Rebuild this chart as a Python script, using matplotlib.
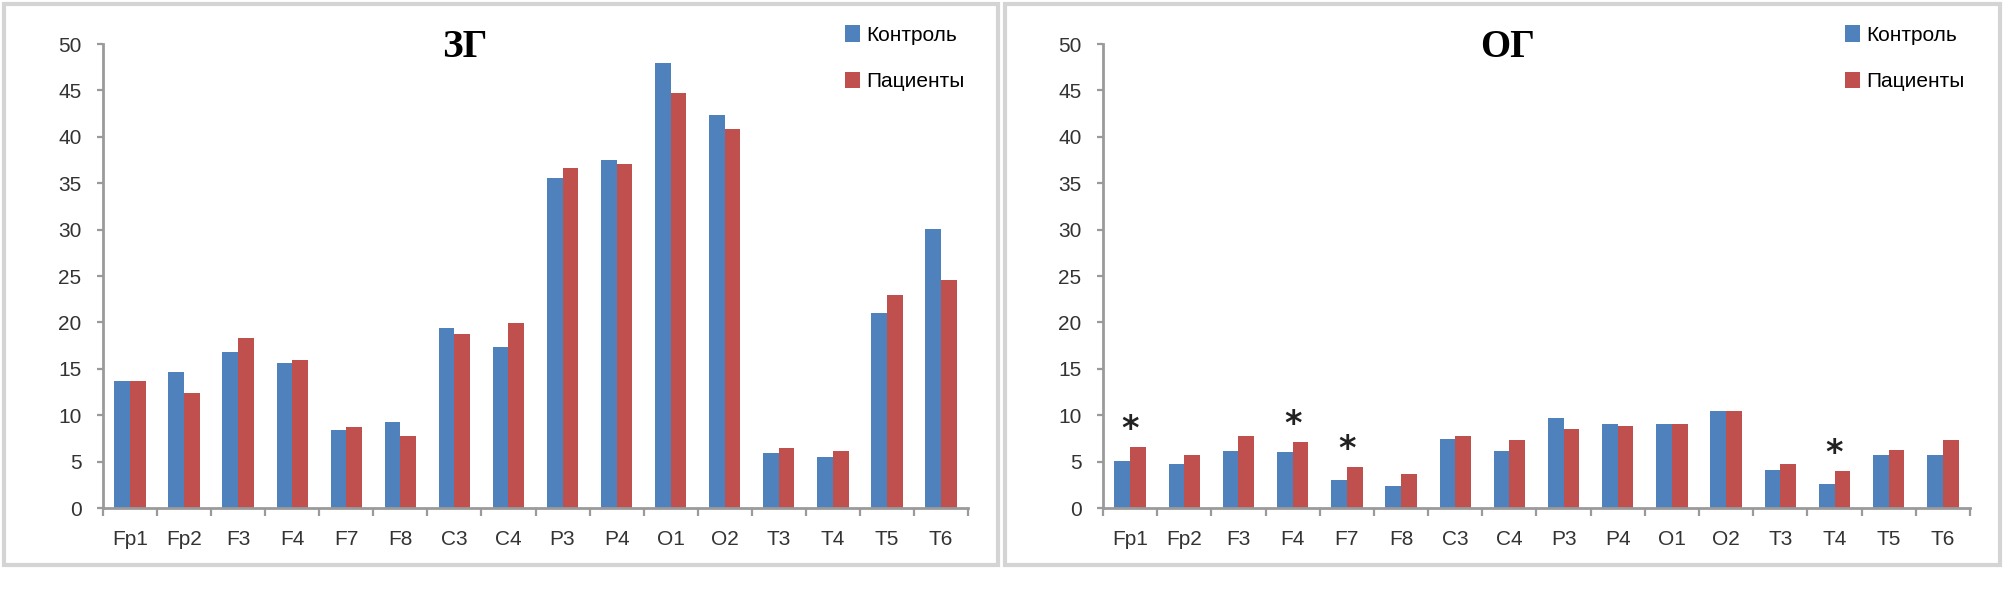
import numpy as np
import matplotlib
matplotlib.use("Agg")
import matplotlib.pyplot as plt
from matplotlib.patches import Rectangle

# electrode sites
leads = ["Fp1", "Fp2", "F3", "F4", "F7", "F8", "C3", "C4",
         "P3", "P4", "O1", "O2", "T3", "T4", "T5", "T6"]

# ЗГ (left panel)
zg_control = [13.7, 14.7, 16.8, 15.6, 8.4, 9.3, 19.4, 17.4,
              35.6, 37.5, 47.9, 42.3, 5.9, 5.5, 21.0, 30.1]
zg_patients = [13.7, 12.4, 18.3, 16.0, 8.7, 7.8, 18.8, 19.9,
               36.6, 37.1, 44.7, 40.8, 6.5, 6.1, 23.0, 24.6]

# ОГ (right panel)
og_control = [5.1, 4.7, 6.1, 6.0, 3.0, 2.4, 7.4, 6.1,
              9.7, 9.0, 9.0, 10.4, 4.1, 2.6, 5.7, 5.7]
og_patients = [6.6, 5.7, 7.8, 7.1, 4.4, 3.7, 7.8, 7.3,
               8.5, 8.8, 9.0, 10.4, 4.7, 4.0, 6.3, 7.3]
og_marked = ["Fp1", "F4", "F7", "T4"]

series_names = ["Контроль", "Пациенты"]
yticks = [0, 5, 10, 15, 20, 25, 30, 35, 40, 45, 50]

C_BLUE = "#4F81BD"
C_RED = "#C0504D"
AX_GRAY = "#9A9A9A"

W, H = 2008, 608
fig = plt.figure(figsize=(W / 100, H / 100), dpi=100)
fig.patch.set_facecolor("white")


def px(x0, y0, x1, y1):
    # pixel box (top-left origin) -> figure fraction rect
    return [x0 / W, 1 - y1 / H, (x1 - x0) / W, (y1 - y0) / H]


def panel(rect, ctrl, pat, title, title_x, legend_x, marks=None):
    ax = fig.add_axes(rect)
    x = np.arange(len(leads))
    bw = 0.29
    ax.bar(x - bw / 2, ctrl, bw, color=C_BLUE, label=series_names[0], zorder=2)
    ax.bar(x + bw / 2, pat, bw, color=C_RED, label=series_names[1], zorder=2)

    ax.set_xlim(-0.5, len(leads) - 0.5)
    ax.set_ylim(0, 50)
    ax.set_yticks(yticks)
    ax.set_xticks(x)
    ax.set_xticklabels(leads)
    ax.set_xticks(np.arange(len(leads) + 1) - 0.5, minor=True)

    for s in ["top", "right"]:
        ax.spines[s].set_visible(False)
    for s in ["left", "bottom"]:
        ax.spines[s].set_color(AX_GRAY)
        ax.spines[s].set_linewidth(2)

    ax.tick_params(axis="y", length=4.5, width=1.6, color=AX_GRAY, pad=11,
                   labelsize=15, labelcolor="#333333")
    ax.tick_params(axis="x", which="major", length=0, pad=16,
                   labelsize=15, labelcolor="#333333")
    ax.tick_params(axis="x", which="minor", length=6, width=1.6, color=AX_GRAY)
    for lab in ax.get_xticklabels() + ax.get_yticklabels():
        lab.set_fontfamily("Liberation Sans")

    if marks:
        for name in marks:
            i = leads.index(name)
            top = max(ctrl[i], pat[i])
            ax.text(i, top + 1.9, "*", ha="center", va="center",
                    fontsize=24, fontweight="bold", color="#222222")

    fig.text(title_x / W, 1 - 57 / H, title, ha="center", va="baseline",
             fontsize=28, fontweight="bold", family="Liberation Serif",
             color="black")

    ax.legend(loc="upper left", bbox_to_anchor=(legend_x / W, 1 - 25 / H),
              bbox_transform=fig.transFigure, frameon=False,
              prop={"family": "Liberation Sans", "size": 15},
              handlelength=0.7, handleheight=0.85, handletextpad=0.3,
              labelspacing=1.3, borderpad=0, borderaxespad=0)
    return ax


panel(px(103, 44, 968, 508), zg_control, zg_patients, "ЗГ", 465, 845)
panel(px(1103, 44, 1970, 508), og_control, og_patients, "ОГ", 1508, 1845,
      marks=og_marked)

# chart frames
for x0, x1 in [(4, 998), (1005, 2000)]:
    fig.add_artist(Rectangle((x0 / W, 1 - 565 / H), (x1 - x0) / W, 561 / H,
                             transform=fig.transFigure, fill=False,
                             edgecolor="#D4D4D4", linewidth=3))

fig.savefig("out.png", dpi=100, facecolor="white")
